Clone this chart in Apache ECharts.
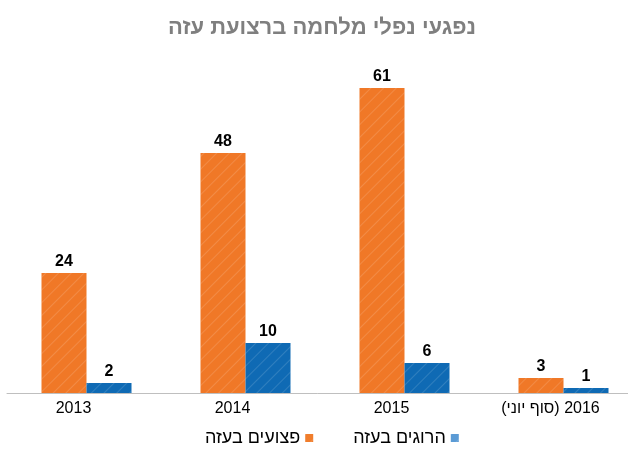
<!DOCTYPE html>
<html dir="rtl">
<head>
<meta charset="utf-8">
<script src="https://cdn.jsdelivr.net/npm/echarts@6/dist/echarts.min.js"></script>
<style>html,body{margin:0;padding:0;background:#fff}#c{position:absolute;left:0;top:0;width:628px;height:461px}</style>
</head>
<body>
<div id="c"></div>
<script>
var titleText = 'נפגעי נפלי מלחמה ברצועת עזה';
var categories = ['2013', '2014', '2015', '2016 (סוף יוני)'];
var woundedName = 'פצועים בעזה';
var killedName = 'הרוגים בעזה';
var wounded = [24, 48, 61, 3];
var killed = [2, 10, 6, 1];

var chart = echarts.init(document.getElementById('c'), null, {renderer: 'canvas'});
var font = "'Liberation Sans', Arial, sans-serif";
var decal = {
  symbol: 'rect',
  dashArrayX: [1, 0],
  dashArrayY: [1, 8],
  rotation: -Math.PI / 4,
  color: 'rgba(255,255,255,0.14)'
};
chart.setOption({
  animation: false,
  backgroundColor: '#ffffff',
  title: {
    text: titleText,
    left: 163,
    top: 12,
    textStyle: {color: '#7f7f7f', fontSize: 22, fontWeight: 'bold', fontFamily: font}
  },
  legend: {
    data: [
      {name: woundedName, itemStyle: {color: '#f07d2c'}},
      {name: killedName, itemStyle: {color: '#5b9bd5'}}
    ],
    bottom: 9,
    left: 200,
    align: 'right',
    icon: 'rect',
    itemWidth: 8,
    itemHeight: 8,
    itemGap: 40,
    textStyle: {color: '#000', fontSize: 18, fontFamily: font}
  },
  grid: {left: 7, width: 636, top: 43, bottom: 68, containLabel: false, outerBoundsMode: 'none'},
  xAxis: {
    type: 'category',
    data: categories,
    axisLine: {lineStyle: {color: '#bfbfbf', width: 1}},
    axisTick: {show: false},
    axisLabel: {
      color: '#000', fontSize: 16, margin: 8,
      fontFamily: font,
      padding: [0, 26, 0, 0]
    }
  },
  yAxis: {
    type: 'value', min: 0, max: 70, show: false,
    splitLine: {show: false}
  },
  series: [
    {
      name: woundedName, type: 'bar', data: wounded, barWidth: 45, barGap: '0%',
      itemStyle: {color: '#f07827', decal: decal},
      label: {show: true, position: 'top', color: '#000', fontSize: 16, fontWeight: 'bold', fontFamily: font, distance: 3}
    },
    {
      name: killedName, type: 'bar', data: killed, barWidth: 45, barGap: '0%',
      itemStyle: {color: '#0f6ab4', decal: decal},
      label: {show: true, position: 'top', color: '#000', fontSize: 16, fontWeight: 'bold', fontFamily: font, distance: 3}
    }
  ]
});
</script>
</body>
</html>
